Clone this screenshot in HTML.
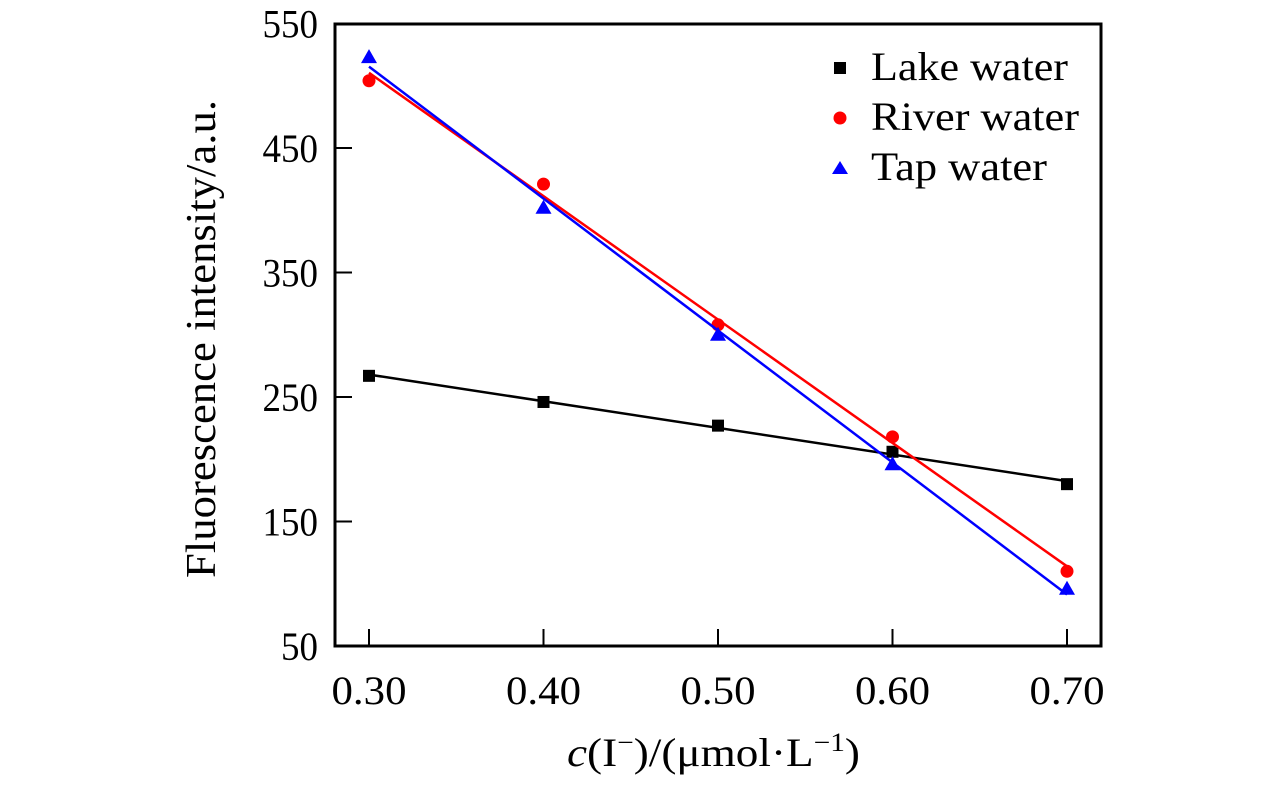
<!DOCTYPE html>
<html><head><meta charset="utf-8"><style>
body{margin:0;background:#fff;width:1276px;height:787px;overflow:hidden}
text{font-family:"Liberation Serif",serif;fill:#000}
</style></head><body>
<svg id="c" width="1276" height="787">
<rect x="335" y="24" width="766" height="622" fill="none" stroke="#000" stroke-width="3"/>
<g id="g"></g>
<text transform="translate(215,339) rotate(-90)" font-size="42" text-anchor="middle" textLength="478" lengthAdjust="spacingAndGlyphs">Fluorescence intensity/a.u.</text>
<text x="567" y="766" font-size="40" textLength="293" lengthAdjust="spacingAndGlyphs"><tspan font-style="italic">c</tspan>(I<tspan dy="-15" font-size="26">−</tspan><tspan dy="15">)/(μmol·L</tspan><tspan dy="-15" font-size="26">−1</tspan><tspan dy="15">)</tspan></text>
<g>
<rect x="834" y="62" width="12" height="12" fill="#000"/>
<text x="871" y="80" font-size="40" textLength="197" lengthAdjust="spacingAndGlyphs">Lake water</text>
<circle cx="840" cy="118" r="6.5" fill="#f00"/>
<text x="871" y="130" font-size="40" textLength="208" lengthAdjust="spacingAndGlyphs">River water</text>
<polygon points="840,161 848,174 832,174" fill="#00f"/>
<text x="871" y="180" font-size="40" textLength="176" lengthAdjust="spacingAndGlyphs">Tap water</text>
</g>
</svg>
<script>
const xs=[0.3,0.4,0.5,0.6,0.7];
const lake=[267,246,227,206,180];
const river=[504,421,308,218,110];
const tap=[523,402,300,196,96];
const yTicks=[50,150,250,350,450,550];
const xTickLabels=["0.30","0.40","0.50","0.60","0.70"];
const X=v=>369+(v-0.3)*1745, Y=v=>646-(v-50)*1.245;
const g=document.getElementById('g'),NS='http://www.w3.org/2000/svg';
function mk(t,a){const e=document.createElementNS(NS,t);for(const k in a)e.setAttribute(k,a[k]);g.appendChild(e);return e;}
yTicks.forEach(v=>{
 const l=mk('line',{x1:335,x2:352,y1:Y(v),y2:Y(v),stroke:'#000','stroke-width':2});
 
 
 const s=String(v);
 const t=mk('text',{x:318,y:Y(v)+14,'font-size':40,'text-anchor':'end',textLength:s.length*18.5,lengthAdjust:'spacingAndGlyphs'});t.textContent=s;
 
 
});
xs.forEach((v,i)=>{
 const l=mk('line',{x1:X(v),x2:X(v),y1:646,y2:629,stroke:'#000','stroke-width':2});
 
 
 const t=mk('text',{x:X(v),y:704,'font-size':40,'text-anchor':'middle',textLength:75,lengthAdjust:'spacingAndGlyphs'});t.textContent=xTickLabels[i];
 
 
});
function fit(ys){const n=xs.length,mx=xs.reduce((a,b)=>a+b)/n,my=ys.reduce((a,b)=>a+b)/n;let sxy=0,sxx=0;xs.forEach((x,i)=>{sxy+=(x-mx)*(ys[i]-my);sxx+=(x-mx)**2});const b=sxy/sxx;return [b,my-b*mx];}
[[lake,'#000','lake'],[river,'#f00','river'],[tap,'#00f','tap']].forEach(([ys,c,n])=>{
 const [b,a]=fit(ys);
 const l=mk('line',{x1:X(0.3),y1:Y(a+b*0.3),x2:X(0.7),y2:Y(a+b*0.7),stroke:c,'stroke-width':2.5});
 
 
 ys.forEach((v,i)=>{
  const x=X(xs[i]),y=Y(v);let m;
  if(n==='lake')m=mk('rect',{x:x-6,y:y-6,width:12,height:12,fill:c});
  else if(n==='river')m=mk('circle',{cx:x,cy:y,r:6.5,fill:c});
  else m=mk('polygon',{points:`${x},${y-8} ${x+8},${y+6} ${x-8},${y+6}`,fill:c});
  
  
 });
});
</script>
</body></html>
